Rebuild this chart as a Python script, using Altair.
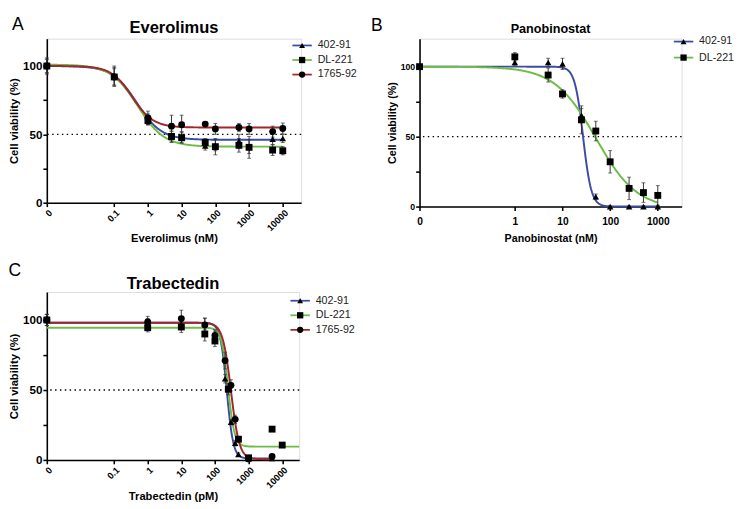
import altair as alt
import numpy as np
import pandas as pd

FONT = "Liberation Sans"
SERIES = ["402-91", "DL-221", "1765-92"]
COLORS = {"402-91": "#3c4ba6", "DL-221": "#6cbd45", "1765-92": "#a3262a"}
MARKERS = {"402-91": "triangle-up", "DL-221": "square", "1765-92": "circle"}
MARKER_SIZE = {"402-91": 45, "DL-221": 50, "1765-92": 50}

# ---------------- Panel A: Everolimus (nM) ----------------
A_CONC = [0, 0.1, 1, 5, 10, 50, 100, 500, 1000, 5000, 10000]
A_402_MEAN = [100, 93, 61, 48, 48, 41.5, 42, 45, 41, 46.5, 47]
A_402_SD = [5, 7, 4, 4, 4, 3, 4, 5, 5, 4, 3]
A_DL_MEAN = [100, 92, 60, 48.5, 47.5, 44, 41, 42, 40.5, 38.5, 38]
A_DL_SD = [5, 6, 3, 4, 4, 3, 6, 5, 8, 4, 3]
A_1765_MEAN = [100, 92, 62, 56, 57, 57.5, 54, 55, 54, 52, 54.3]
A_1765_SD = [6, 7, 5, 8, 7, 1.5, 4, 3, 4, 4, 4]
# fitted curve parameters: top, bottom, IC50, hill
A_FIT_402 = [100, 46, 0.47, 1.2]
A_FIT_DL = [101, 41, 0.49, 1.1]
A_FIT_1765 = [100, 55, 0.34, 1.4]

# ---------------- Panel B: Panobinostat (nM) ----------------
B_CONC = [0, 1, 5, 10, 25, 50, 100, 250, 500, 1000]
B_402_MEAN = [100, 103, 103, 102, 65, 7, 0, 0, 0, 0]
B_402_SD = [1, 2, 3, 4, 5, 2, 0.5, 0.5, 0.5, 0.5]
B_DL_MEAN = [100, 107, 94, 80.5, 62, 54, 32, 13, 10, 8]
B_DL_SD = [1, 3, 5, 3, 10, 7, 8, 8, 7, 7]
B_FIT_402 = [100, 0, 27, 5]
B_FIT_DL = [100, -2, 50, 1.0]

# ---------------- Panel C: Trabectedin (pM) ----------------
C_402_CONC = [0, 1, 10, 50, 100, 200, 300, 400, 500, 1000, 5000]
C_402_MEAN = [100, 98, 97, 97, 88, 58, 27, 12, 4, 1, 1]
C_402_SD = [4, 3, 4, 4, 4, 3, 2, 2, 1, 1, 1]
C_DL_CONC = [0, 1, 10, 50, 100, 250, 500, 1000, 5000, 10000]
C_DL_MEAN = [100, 94.5, 95, 90, 85, 50.5, 14.8, 1.5, 22, 10.6]
C_DL_SD = [4, 3, 4, 5, 4, 4, 2, 1, 1, 1]
C_1765_CONC = [0, 1, 10, 50, 100, 200, 300, 400, 1000, 5000]
C_1765_MEAN = [100, 98.6, 101, 96.5, 89, 71, 53.3, 29, 0.7, 2.5]
C_1765_SD = [4, 4, 6, 5, 4, 6, 4, 3, 1, 1]
C_FIT_402 = [98, 1, 225, 4.5]
C_FIT_DL = [94.5, 9.5, 245, 4.5]
C_FIT_1765 = [98, 0.5, 300, 3.5]


def make_legend(series, x_start, y_first, y_last, font_size):
    n = len(series)
    df = pd.DataFrame({"series": series, "x0": [0.0] * n, "x1": [1.0] * n,
                       "xm": [0.5] * n})
    xsc = alt.Scale(domain=[0, 1], range=[x_start, x_start + 20], nice=False, zero=False)
    ysc = alt.Scale(type="point", domain=series, range=[y_first, y_last], padding=0)
    Y = alt.Y("series:N", scale=ysc, axis=None, title=None)
    rule = alt.Chart(df).mark_rule(strokeWidth=1.8).encode(
        x=alt.X("x0:Q", scale=xsc, axis=None), x2="x1:Q", y=Y,
        color=alt.Color("series:N", scale=alt.Scale(domain=series, range=[COLORS[s] for s in series]), legend=None),
    )
    marks = []
    for s in series:
        marks.append(alt.Chart(df).transform_filter(alt.datum.series == s).mark_point(
            shape=MARKERS[s], filled=True, color="black", opacity=1, size=MARKER_SIZE[s] - 8
        ).encode(x=alt.X("xm:Q", scale=xsc, axis=None), y=Y))
    txt = alt.Chart(df).mark_text(align="left", baseline="middle", dx=6, font=FONT,
                                  fontSize=font_size, color="#222222").encode(
        x=alt.X("x1:Q", scale=xsc, axis=None), y=Y, text="series:N")
    return alt.layer(rule, *marks, txt)


def make_panel(letter, title, title_size, xtitle, zero_pos, x_max, xticks,
               label_angle, series, concs, means, sds, fits, curve_ends,
               width, height, ylab_size, xlab_size, title_font_axis,
               letter_xy, title_y, xlab_pad, xtitle_pad, leg_args):
    rows = []
    curves = []
    for s, c, m, e, f, end in zip(series, concs, means, sds, fits, curve_ends):
        for ci, mi, ei in zip(c, m, e):
            rows.append({"series": s, "x": ci if ci > 0 else zero_pos,
                         "mean": mi, "lo": mi - ei, "hi": mi + ei})
        top, bot, ic50, hill = f
        xs = np.logspace(np.log10(zero_pos), np.log10(end), 400)
        ys = bot + (top - bot) / (1 + (xs / ic50) ** hill)
        for xv, yv in zip(xs, ys):
            curves.append({"series": s, "x": xv, "y": yv})
    pts = pd.DataFrame(rows)
    cur = pd.DataFrame(curves)

    xscale = alt.Scale(type="log", domain=[zero_pos, x_max], nice=False)
    yscale = alt.Scale(domain=[0, 120], nice=False, zero=False)
    axis_common = dict(grid=False, domainColor="black", domainWidth=1.6,
                       tickColor="black", tickWidth=1.6, tickSize=4,
                       labelFont=FONT, labelFontWeight="bold",
                       labelColor="black", titleFont=FONT,
                       titleFontWeight="bold", titleColor="black",
                       titleFontSize=title_font_axis)
    xaxis = alt.Axis(values=xticks, title=xtitle,
                     labelExpr="datum.value < 0.05 ? '0' : format(datum.value, '~g')",
                     labelAngle=label_angle, labelFontSize=xlab_size,
                     labelPadding=xlab_pad, titlePadding=xtitle_pad, labelFlush=False,
                     labelOverlap=False, **axis_common)
    yaxis = alt.Axis(values=[0, 25, 50, 75, 100], title="Cell viability (%)",
                     labelExpr="datum.value % 50 === 0 ? datum.label : ''",
                     labelFontSize=ylab_size, labelPadding=1, titlePadding=3,
                     **axis_common)
    X = alt.X("x:Q", scale=xscale, axis=xaxis)
    Yv = lambda f: alt.Y(f, scale=yscale, axis=yaxis)

    ref = alt.Chart(pd.DataFrame({"y": [50]})).mark_rule(
        color="black", strokeWidth=1.5, strokeDash=[1.5, 3.5]
    ).encode(y=Yv("y:Q"))

    line = alt.Chart(cur).mark_line(strokeWidth=2, interpolate="linear").encode(
        x=X, y=Yv("y:Q"),
        color=alt.Color("series:N", scale=alt.Scale(domain=series, range=[COLORS[s] for s in series]), legend=None),
    )
    err = alt.Chart(pts).mark_rule(color="#333333", strokeWidth=1).encode(
        x=X, y=Yv("lo:Q"), y2="hi:Q")
    cap_lo = alt.Chart(pts).mark_tick(color="#333333", orient="horizontal", size=4, thickness=1).encode(
        x=X, y=Yv("lo:Q"))
    cap_hi = alt.Chart(pts).mark_tick(color="#333333", orient="horizontal", size=4, thickness=1).encode(
        x=X, y=Yv("hi:Q"))

    point_layers = []
    for s in series:
        point_layers.append(
            alt.Chart(pts).transform_filter(alt.datum.series == s).mark_point(
                shape=MARKERS[s], filled=True, color="black", opacity=1, size=MARKER_SIZE[s]
            ).encode(x=X, y=Yv("mean:Q"))
        )

    lab = alt.Chart(pd.DataFrame({"t": [letter]})).mark_text(
        font=FONT, fontSize=18, color="black", align="center", baseline="middle"
    ).encode(text="t:N", x=alt.value(letter_xy[0]), y=alt.value(letter_xy[1]))

    ttl = alt.Chart(pd.DataFrame({"t": [title]})).mark_text(
        font=FONT, fontSize=title_size, fontWeight="bold", color="black",
        align="center", baseline="middle"
    ).encode(text="t:N", x=alt.value(width / 2), y=alt.value(title_y))

    main = alt.layer(ref, line, err, cap_lo, cap_hi, *point_layers, lab, ttl)
    leg = make_legend(series, *leg_args)
    return alt.layer(main, leg).resolve_scale(x="independent", y="independent").properties(
        width=width, height=height,
    )


A = make_panel("A", "Everolimus", 17, "Everolimus (nM)", 0.001, 35000,
               [0.001, 0.1, 1, 10, 100, 1000, 10000], 315, SERIES,
               [A_CONC, A_CONC, A_CONC], [A_402_MEAN, A_DL_MEAN, A_1765_MEAN],
               [A_402_SD, A_DL_SD, A_1765_SD], [A_FIT_402, A_FIT_DL, A_FIT_1765],
               [10000, 10000, 10000], 262, 169, 12, 9.5, 11.5,
               (-30, -14), -11, 1, 1, (253, 7, 37, 11))

B = make_panel("B", "Panobinostat", 13, "Panobinostat (nM)", 0.01, 3162,
               [0.01, 1, 10, 100, 1000], 0, SERIES[:2],
               [B_CONC, B_CONC], [B_402_MEAN, B_DL_MEAN], [B_402_SD, B_DL_SD],
               [B_FIT_402, B_FIT_DL], [1000, 1000], 270, 173, 9, 10.5, 11,
               (-44, -13), -10, 6, 6, (262, 3, 19.5, 11))

C = make_panel("C", "Trabectedin", 17, "Trabectedin (pM)", 0.001, 32000,
               [0.001, 0.1, 1, 10, 100, 1000, 10000], 315, SERIES,
               [C_402_CONC, C_DL_CONC, C_1765_CONC], [C_402_MEAN, C_DL_MEAN, C_1765_MEAN],
               [C_402_SD, C_DL_SD, C_1765_SD], [C_FIT_402, C_FIT_DL, C_FIT_1765],
               [5000, 32000, 5000], 260, 173, 12, 9.5, 11.5,
               (-33, -22), -8, 1, 1, (251, 9, 39, 11))

row1 = alt.hconcat(A, B, spacing=13).resolve_scale(color="independent")

chart = alt.vconcat(row1, C, spacing=16).resolve_scale(color="independent").properties(
    padding=0
).configure_view(stroke=None).configure(font=FONT)

chart.save("out.html", embed_options={"renderer": "svg", "actions": False})
